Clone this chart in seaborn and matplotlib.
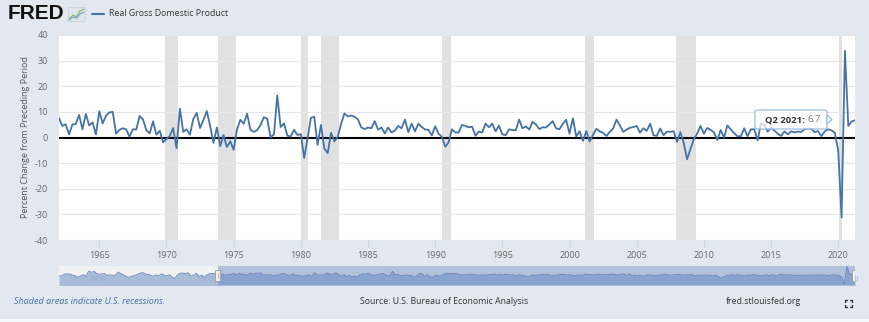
import numpy as np
import pandas as pd
import matplotlib
matplotlib.use("Agg")
import matplotlib.pyplot as plt
import matplotlib.dates as mdates
from matplotlib.patches import Rectangle, FancyBboxPatch, Polygon
import seaborn as sns

# ---------------- data ----------------
gdp_change = [
    7.6, 4.5, 5.2, 1.2,   # 1962
    5.1, 5.2, 8.8, 3.2,   # 1963
    9.2, 4.7, 5.9, 1.2,   # 1964
    10.2, 5.5, 8.5, 9.8,  # 1965
    10.0, 1.5, 3.0, 3.6,  # 1966
    3.2, 0.3, 3.2, 3.1,   # 1967
    8.4, 7.1, 2.9, 1.6,   # 1968
    6.3, 1.1, 2.6, -1.9,  # 1969
    -0.6, 0.6, 3.7, -4.2, # 1970
    11.3, 2.2, 3.2, 1.1,  # 1971
    7.3, 9.6, 3.7, 6.8,   # 1972
    10.3, 4.6, -2.1, 3.9, # 1973
    -3.4, 1.0, -3.7, -1.5,  # 1974
    -4.8, 3.1, 6.9, 5.4,  # 1975
    9.3, 3.0, 2.2, 2.9,   # 1976
    4.8, 7.9, 7.4, 0.0,   # 1977
    1.3, 16.4, 4.1, 5.5,  # 1978
    0.7, 0.4, 3.0, 1.0,   # 1979
    1.3, -8.0, -0.5, 7.7, # 1980
    8.1, -2.9, 4.9, -4.3, # 1981
    -6.1, 1.8, -1.5, 0.2, # 1982
    5.4, 9.4, 8.2, 8.6,   # 1983
    8.1, 7.1, 3.9, 3.3,   # 1984
    3.9, 3.6, 6.4, 3.1,   # 1985
    3.9, 1.6, 3.9, 2.0,   # 1986
    2.7, 4.5, 3.6, 7.0,   # 1987
    2.1, 5.4, 2.4, 5.4,   # 1988
    4.1, 3.1, 3.0, 0.8,   # 1989
    4.4, 1.5, 0.3, -3.6,  # 1990
    -1.9, 3.2, 2.0, 1.9,  # 1991
    4.9, 4.5, 4.0, 4.2,   # 1992
    0.7, 2.3, 1.9, 5.4,   # 1993
    4.0, 5.4, 2.4, 4.6,   # 1994
    1.2, 0.9, 3.2, 2.9,   # 1995
    2.8, 7.0, 3.6, 4.3,   # 1996
    3.1, 6.1, 5.1, 3.3,   # 1997
    4.0, 3.9, 5.1, 6.4,   # 1998
    3.6, 3.2, 5.3, 6.9,   # 1999
    1.5, 7.5, 0.4, 2.4,   # 2000
    -1.3, 2.5, -1.6, 1.1, # 2001
    3.4, 2.4, 1.8, 0.6,   # 2002
    2.2, 3.5, 7.0, 4.7,   # 2003
    2.2, 3.1, 3.8, 4.1,   # 2004
    4.5, 1.9, 3.6, 2.6,   # 2005
    5.4, 0.9, 0.6, 3.5,   # 2006
    0.9, 2.3, 2.2, 2.5,   # 2007
    -1.7, 2.1, -2.1, -8.5,  # 2008
    -4.6, -0.7, 1.5, 4.5, # 2009
    1.5, 3.7, 3.0, 2.0,   # 2010
    -1.0, 2.9, -0.1, 4.7, # 2011
    3.2, 1.7, 0.5, 0.5,   # 2012
    3.6, 0.5, 3.2, 3.2,   # 2013
    -1.1, 5.5, 5.0, 2.3,  # 2014
    3.8, 2.7, 1.5, 0.6,   # 2015
    2.4, 1.2, 2.4, 2.0,   # 2016
    2.3, 2.2, 3.2, 3.5,   # 2017
    3.3, 2.1, 2.5, 0.5,   # 2018
    2.4, 3.2, 2.8, 1.9,   # 2019
    -5.1, -31.2, 33.8, 4.5,  # 2020
    6.3, 6.7,             # 2021
]
start_quarter = "1962-01-01"

# earlier history shown only in the navigator strip
early_change = [
    -1.0, -0.8, 6.4,
    6.2, 6.8, 2.3, 0.5,
    -5.4, -1.5, 4.1, -3.4,
    16.9, 12.7, 16.3, 7.9,
    5.6, 7.1, 8.2, 1.0,
    3.4, 0.4, 3.0, 13.7,
    7.7, 3.1, -2.4, -6.2,
    -1.9, 0.5, 4.7, 8.2,
    12.0, 6.8, 5.4, 2.3,
    -1.8, 3.2, -0.4, 6.8,
    2.6, -0.9, 3.8, -4.2,
    -10.0, 2.6, 9.6, 9.7,
    7.9, 11.2, -0.5, 1.4,
    9.2, -2.1, 2.0, -5.0,
    2.7, 7.5, 8.2, 8.1,
]
early_start = "1947-04-01"

recession_start = ["1969-12-01", "1973-11-01", "1980-01-01", "1981-07-01",
                   "1990-07-01", "2001-03-01", "2007-12-01", "2020-02-01"]
recession_end = ["1970-11-01", "1975-03-01", "1980-07-01", "1982-11-01",
                 "1991-03-01", "2001-11-01", "2009-06-01", "2020-04-01"]

y_ticks = [-40, -30, -20, -10, 0, 10, 20, 30, 40]
x_tick_years = [1965, 1970, 1975, 1980, 1985, 1990, 1995, 2000, 2005, 2010, 2015, 2020]
nav_tick_years = [1950, 1960, 1970, 1980, 1990, 2000, 2010, 2020]

series_name = "Real Gross Domestic Product"
y_label = "Percent Change from Preceding Period"
tooltip_period = "Q2 2021:"
tooltip_value = "6.7"

# ---------------- frames ----------------
dates = pd.date_range(start_quarter, periods=len(gdp_change), freq="QS")
df = pd.DataFrame({"date": dates, "value": gdp_change})
early_dates = pd.date_range(early_start, periods=len(early_change), freq="QS")
full = pd.DataFrame({"date": list(early_dates) + list(dates),
                     "value": early_change + gdp_change})

BG = "#e1e8f0"
BLUE = "#4572a7"
W, H = 870, 322

sns.set_theme(style="white")
plt.rcParams["font.family"] = ["Open Sans", "DejaVu Sans"]

fig = plt.figure(figsize=(W / 100, H / 100), dpi=100, facecolor=BG)

def fx(px):
    return px / W

def fy(py):
    return 1 - py / H

# ---------------- main axes ----------------
L, R, T, B = 59, 855, 35, 240
ax = fig.add_axes([fx(L), fy(B), fx(R - L), (B - T) / H])
ax.set_facecolor("white")

for s, e in zip(recession_start, recession_end):
    ax.axvspan(pd.Timestamp(s), pd.Timestamp(e), color="#e1e1e1", lw=0, zorder=0)

for yv in y_ticks:
    if yv != 0:
        ax.axhline(yv, color="#e6e6e6", lw=0.8, zorder=1)
ax.axhline(0, color="black", lw=1.5, zorder=2)

sns.lineplot(data=df, x="date", y="value", ax=ax, color=BLUE, lw=1.3, zorder=3)

ax.set_xlim(dates[0], dates[-1])
ax.set_ylim(-40, 40)
ax.set_yticks(y_ticks)
ax.set_yticklabels([str(v) for v in y_ticks])
ax.set_xticks([pd.Timestamp(f"{y}-01-01") for y in x_tick_years])
ax.set_xticklabels([str(y) for y in x_tick_years])
ax.tick_params(axis="y", length=0, labelsize=6.5, labelcolor="#666666", pad=8)
ax.tick_params(axis="x", length=5, width=0.8, color="#ccd6eb", labelsize=6.5,
               labelcolor="#666666", pad=3, direction="out", bottom=True)
for sp in ["top", "left", "right", "bottom"]:
    ax.spines[sp].set_visible(False)
ax.set_xlabel("")
ax.set_ylabel(y_label, fontsize=6.5, color="#555555", labelpad=3)

# tooltip
tx0, ty0, tx1, ty1 = 755, 110, 827, 129
box = FancyBboxPatch((fx(tx0), fy(ty1)), fx(tx1 - tx0), (ty1 - ty0) / H,
                     boxstyle="round,pad=0,rounding_size=0.004",
                     transform=fig.transFigure, fc=(1, 1, 1, 0.7),
                     ec="#9fbde6", lw=0.9, zorder=10)
fig.patches.append(box)
tri = Polygon([(fx(tx1), fy(115)), (fx(tx1 + 5), fy(119.5)), (fx(tx1), fy(124))],
              closed=True, transform=fig.transFigure, fc=(1, 1, 1, 0.85),
              ec="#9fbde6", lw=0.9, zorder=11)
fig.patches.append(tri)
t1 = fig.text(fx(765), fy(119.5), tooltip_period + " ", fontsize=6.8, color="#333333",
              fontweight="bold", va="center", ha="left", zorder=12)
fig.canvas.draw()
bb = t1.get_window_extent()
fig.text(bb.x1 / W, fy(119.5), tooltip_value, fontsize=6.8, color="#777777",
         va="center", ha="left", zorder=12)

# ---------------- navigator ----------------
NT, NB = 266, 285
nav = fig.add_axes([fx(L), fy(NB), fx(R - L), (NB - NT) / H])
nav.set_facecolor("#f2f2f2")
nav.fill_between(full["date"], full["value"], -40, color="#a8bcd8", lw=0, zorder=1)
sns.lineplot(data=full, x="date", y="value", ax=nav, color="#6f8fc0", lw=0.7, zorder=2)
nav.axvspan(dates[0], dates[-1], color="#6685c2", alpha=0.45, lw=0, zorder=3)
nav.set_xlim(full["date"].iloc[0], full["date"].iloc[-1])
nav.set_ylim(-34, 36)
nav.set_xticks([])
nav.set_yticks([])
nav.set_xlabel("")
nav.set_ylabel("")
for sp in nav.spines.values():
    sp.set_visible(False)
for yr in nav_tick_years:
    nav.text(pd.Timestamp(f"{yr}-01-01"), -12, str(yr), fontsize=5.5, color="#8ea4c8",
             ha="left", va="center", alpha=0.7, zorder=4)
for d in [dates[0], dates[-1]]:
    nav.add_patch(Rectangle((mdates.date2num(d) - 85, -20), 170, 40, fc="#f2f2f2",
                            ec="#999999", lw=0.6, zorder=6))
    nav.plot([mdates.date2num(d)] * 2, [-10, 10], color="#999999", lw=0.5, zorder=7)

# ---------------- header ----------------
fig.text(fx(8), fy(13.5), "FRED", fontsize=15, fontweight="bold", color="#111111",
         family=["Liberation Sans", "DejaVu Sans"], va="center", ha="left")
fig.patches.append(Rectangle((fx(68), fy(21)), fx(17), 14 / H, transform=fig.transFigure,
                             fc="#dde4ea", ec="#c8d0d8", lw=0.5))
fig.lines.append(plt.Line2D([fx(69), fx(73), fx(76), fx(80), fx(84)],
                            [fy(19), fy(15), fy(17), fy(11), fy(9)],
                            transform=fig.transFigure, color="#8fb56a", lw=0.8))
fig.lines.append(plt.Line2D([fx(69), fx(73), fx(77), fx(80), fx(84)],
                            [fy(20), fy(17), fy(18), fy(14), fy(12)],
                            transform=fig.transFigure, color="#7a9fd0", lw=0.8))
fig.lines.append(plt.Line2D([fx(92), fx(104)], [fy(13.5), fy(13.5)],
                            transform=fig.transFigure, color=BLUE, lw=1.5))
fig.text(fx(109), fy(13.5), series_name, fontsize=6.3, color="#333333",
         va="center", ha="left")

# ---------------- footer ----------------
fig.text(fx(14), fy(301), "Shaded areas indicate U.S. recessions.", fontsize=6.5,
         color="#4a6fa5", style="italic", va="center", ha="left")
fig.text(fx(444), fy(301), "Source: U.S. Bureau of Economic Analysis", fontsize=6.3,
         color="#333333", va="center", ha="center")
fig.text(fx(763), fy(301), "fred.stlouisfed.org", fontsize=6.3,
         color="#333333", va="center", ha="center")
# expand icon (four corner brackets)
cx, cy, hs, arm = 849, 303, 3.5, 2.0
for sx in (-1, 1):
    for sy in (-1, 1):
        xc, yc = cx + sx * hs, cy + sy * hs
        fig.lines.append(plt.Line2D([fx(xc - sx * arm), fx(xc), fx(xc)],
                                    [fy(yc), fy(yc), fy(yc - sy * arm)],
                                    transform=fig.transFigure, color="#333333", lw=1.0))
fig.patches.append(Rectangle((0, 0), 1, 3 / H, transform=fig.transFigure,
                             fc="#f5f7fa", lw=0))

fig.savefig("out.png", dpi=100, facecolor=BG)
